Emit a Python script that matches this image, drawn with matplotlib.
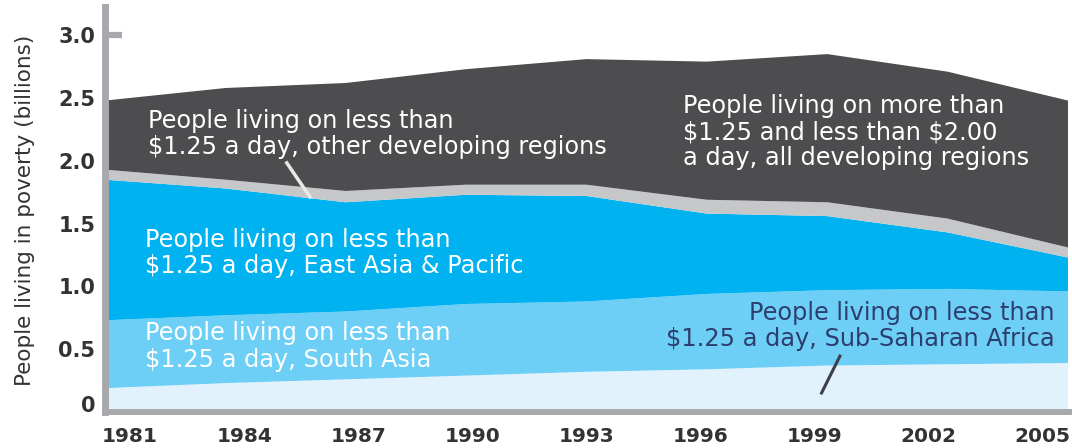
import matplotlib
matplotlib.use("Agg")
import matplotlib.pyplot as plt
import matplotlib.transforms as mtransforms

years = [1981, 1984, 1987, 1990, 1993, 1996, 1999, 2002, 2005]
sub_saharan_africa = [0.19, 0.23, 0.26, 0.29, 0.32, 0.34, 0.37, 0.38, 0.39]
south_asia = [0.54, 0.54, 0.54, 0.57, 0.56, 0.60, 0.60, 0.60, 0.57]
east_asia_pacific = [1.12, 1.01, 0.87, 0.87, 0.84, 0.64, 0.59, 0.45, 0.27]
other_regions = [0.08, 0.07, 0.09, 0.08, 0.09, 0.11, 0.11, 0.11, 0.08]
between_125_and_200 = [0.55, 0.73, 0.86, 0.92, 1.00, 1.10, 1.18, 1.17, 1.17]

y_ticks = [0, 0.5, 1.0, 1.5, 2.0, 2.5, 3.0]
y_tick_labels = ["0", "0.5", "1.0", "1.5", "2.0", "2.5", "3.0"]
x_tick_labels = [str(y) for y in years]

colors = ["#e1f2fc", "#6dcff6", "#00b2ef", "#c5c7c9", "#4d4d4f"]
axis_gray = "#a7a9ac"
text_dark = "#333333"

W, H = 1072, 448
fig = plt.figure(figsize=(W / 100, H / 100), dpi=100)
ax_left, ax_right, ax_bottom, ax_top = 105, 1072, 412, 7
ax = fig.add_axes([ax_left / W, 1 - ax_bottom / H, (ax_right - ax_left) / W,
                   (ax_bottom - ax_top) / H])

ax.stackplot(years, sub_saharan_africa, south_asia, east_asia_pacific,
             other_regions, between_125_and_200, colors=colors,
             linewidth=0, zorder=1)
ax.set_xlim(1981, 2005.1)
ax.set_ylim(0, 3.225)

for s in ["top", "right"]:
    ax.spines[s].set_visible(False)
ax.spines["left"].set_color(axis_gray)
ax.spines["left"].set_linewidth(5)
ax.spines["bottom"].set_color(axis_gray)
ax.spines["bottom"].set_linewidth(4.3)
ax.spines["left"].set_zorder(3)
ax.spines["bottom"].set_zorder(3)

ax.set_xticks([])

# label axis for years (labels sit slightly narrower than the data span)
ax2 = ax.twiny()
ax2.set_xlim(1980.34, 2005.77)
ax2.set_xticks(years)
ax2.set_xticklabels(x_tick_labels)
ax2.xaxis.set_ticks_position("bottom")
ax2.xaxis.set_label_position("bottom")
ax2.tick_params(axis="x", length=0, pad=11, labelsize=14.5, labelcolor=text_dark)
for lbl in ax2.get_xticklabels():
    lbl.set_fontweight("bold")
for s in ax2.spines.values():
    s.set_visible(False)

ax.set_yticks(y_ticks)
ax.set_yticklabels(y_tick_labels)
ax.tick_params(axis="y", length=0, pad=7, labelsize=15, labelcolor=text_dark,
               left=False, labelleft=True)
for lbl in ax.get_yticklabels():
    lbl.set_fontweight("bold")
zero_lbl = ax.get_yticklabels()[0]
zero_lbl.set_transform(zero_lbl.get_transform() +
                       mtransforms.ScaledTranslation(0, 8 / 100, fig.dpi_scale_trans))

# small stub tick at the top value
ax.plot([1981, 1981 + 17 / 40.1], [3.0, 3.0], color=axis_gray, lw=4.5,
        solid_capstyle="butt", zorder=3, clip_on=False)

fig.text(25 / W, 1 - 210 / H, "People living in poverty (billions)", rotation=90,
         ha="center", va="center", fontsize=15.5, color=text_dark)

fs = 17.3
ls = 1.12
ax.text(0.0445, 0.686, "People living on less than\n\\$1.25 a day, other developing regions",
        transform=ax.transAxes, ha="left", va="center", color="white",
        fontsize=fs, linespacing=ls, zorder=4)
ax.text(0.598, 0.691, "People living on more than\n\\$1.25 and less than \\$2.00\na day, all developing regions",
        transform=ax.transAxes, ha="left", va="center", color="white",
        fontsize=fs, linespacing=ls, zorder=4)
ax.text(0.041, 0.393, "People living on less than\n\\$1.25 a day, East Asia & Pacific",
        transform=ax.transAxes, ha="left", va="center", color="white",
        fontsize=fs, linespacing=ls, zorder=4)
ax.text(0.041, 0.162, "People living on less than\n\\$1.25 a day, South Asia",
        transform=ax.transAxes, ha="left", va="center", color="white",
        fontsize=fs, linespacing=ls, zorder=4)
ax.text(0.982, 0.212, "People living on less than\n\\$1.25 a day, Sub-Saharan Africa",
        transform=ax.transAxes, ha="right", va="center", color="#2d3e6e",
        fontsize=fs, linespacing=ls, multialignment="right", zorder=4)

ax.plot([0.188, 0.212], [0.615, 0.531], transform=ax.transAxes, color="#e8e8e8",
        lw=2.5, zorder=4)
ax.plot([0.760, 0.741], [0.138, 0.047], transform=ax.transAxes, color="#3a3f4a",
        lw=2.2, zorder=4)

fig.savefig("out.png", dpi=100)
